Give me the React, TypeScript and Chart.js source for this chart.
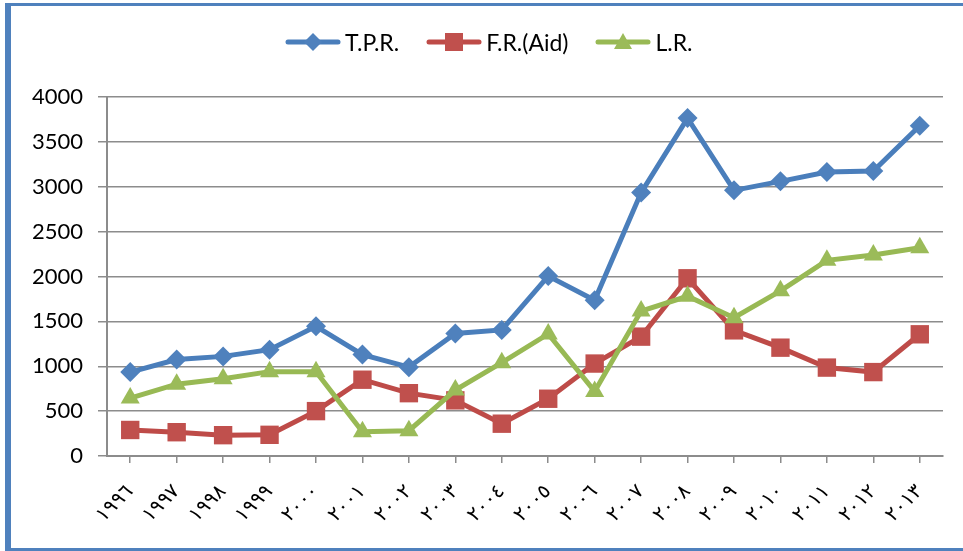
import React, { useEffect, useRef } from "react";
import { Chart, registerables } from "chart.js";

Chart.register(...registerables);

const years = [
  "١٩٩٦", "١٩٩٧", "١٩٩٨", "١٩٩٩", "٢٠٠٠", "٢٠٠١", "٢٠٠٢", "٢٠٠٣", "٢٠٠٤",
  "٢٠٠٥", "٢٠٠٦", "٢٠٠٧", "٢٠٠٨", "٢٠٠٩", "٢٠١٠", "٢٠١١", "٢٠١٢", "٢٠١٣",
];
const tpr = [935, 1075, 1110, 1185, 1445, 1130, 990, 1365, 1405, 2005, 1735, 2935, 3765, 2960, 3060, 3165, 3175, 3680];
const fr = [290, 265, 232, 236, 500, 850, 700, 620, 360, 638, 1030, 1330, 1980, 1400, 1207, 985, 935, 1356];
const lr = [645, 800, 860, 940, 940, 270, 282, 735, 1040, 1360, 720, 1615, 1780, 1540, 1840, 2180, 2240, 2320];
const seriesNames = ["T.P.R.", "F.R.(Aid)", "L.R."];
const yMin = 0;
const yMax = 4000;
const yStep = 500;

const lineColors = ["#4A7EBB", "#BE4B48", "#98B954"];
const markerColors = ["#4F81BD", "#C0504D", "#9BBB59"];
const markerShapes = ["rectRot", "rect", "triangle"];
const markerRadius = [10, 13, 11];
const seriesData = [tpr, fr, lr];

function LegendIcon({ idx }: { idx: number }) {
  const c = markerColors[idx];
  let marker: React.ReactNode = null;
  if (idx === 0) marker = <polygon points="28,2 37,11 28,20 19,11" fill={c} />;
  else if (idx === 1) marker = <rect x={19} y={2} width={18} height={18} fill={c} />;
  else marker = <polygon points="28,2 37,18 19,18" fill={c} />;
  return (
    <svg width={56} height={22} style={{ display: "block", marginRight: 4 }}>
      <line x1={3} y1={11} x2={53} y2={11} stroke={lineColors[idx]} strokeWidth={5} strokeLinecap="round" />
      {marker}
    </svg>
  );
}

export default function App() {
  const ref = useRef<HTMLCanvasElement | null>(null);

  useEffect(() => {
    if (!ref.current) return;
    const grey = "#8C8C8C";
    const chart = new Chart(ref.current, {
      type: "line",
      data: {
        labels: years,
        datasets: seriesData.map((d, i) => ({
          label: seriesNames[i],
          data: d,
          borderColor: lineColors[i],
          backgroundColor: markerColors[i],
          borderWidth: 5,
          pointStyle: markerShapes[i] as any,
          pointRadius: markerRadius[i],
          pointBackgroundColor: markerColors[i],
          pointBorderColor: markerColors[i],
          pointBorderWidth: 0,
          tension: 0,
          fill: false,
          order: 2 - i,
        })),
      },
      options: {
        responsive: false,
        animation: false,
        layout: { padding: { top: 97, right: 20, left: 0, bottom: 0 } },
        plugins: {
          legend: { display: false },
          tooltip: { enabled: false },
        },
        scales: {
          x: {
            type: "category",
            offset: true,
            grid: {
              display: true,
              drawOnChartArea: false,
              drawTicks: true,
              tickLength: 7,
              offset: false,
              color: grey,
              lineWidth: 1.5,
            },
            border: { display: true, color: grey, width: 2 },
            ticks: {
              autoSkip: false,
              maxRotation: 45,
              minRotation: 45,
              padding: 17,
              color: "#000",
              font: { family: "'DejaVu Sans'", size: 20 },
            },
            afterFit: (s: any) => {
              s.height = 95;
            },
          },
          y: {
            min: yMin,
            max: yMax,
            ticks: {
              stepSize: yStep,
              padding: 15,
              color: "#000",
              font: { family: "Lato, 'DejaVu Sans'", size: 22 },
              callback: (v: any) => String(v),
            },
            grid: { color: grey, lineWidth: 1.5, tickLength: 9 },
            border: { display: true, color: grey, width: 2 },
            afterFit: (s: any) => {
              s.width = 107;
            },
          },
        },
      },
    });
    return () => chart.destroy();
  }, []);

  return (
    <div style={{ position: "fixed", left: 0, top: 0, width: 963, height: 551, background: "#fff", overflow: "hidden" }}>
      <canvas ref={ref} width={963} height={551} style={{ position: "absolute", left: 0, top: 0 }} />
      <div
        style={{
          position: "absolute",
          left: 5,
          top: 3,
          width: 1000,
          height: 548,
          boxSizing: "border-box",
          borderLeft: "6px solid #4F81BD",
          borderTop: "3px solid #4F81BD",
          borderBottom: "3px solid #4F81BD",
          pointerEvents: "none",
        }}
      />
      <div
        style={{
          position: "absolute",
          left: 285,
          top: 31,
          height: 22,
          display: "flex",
          alignItems: "center",
          fontFamily: "Lato, 'DejaVu Sans', sans-serif",
          fontSize: 23,
          lineHeight: "22px",
          color: "#000",
          whiteSpace: "nowrap",
        }}
      >
        {seriesNames.map((n, i) => (
          <div key={n} style={{ display: "flex", alignItems: "center", marginRight: 27 }}>
            <LegendIcon idx={i} />
            <span>{n}</span>
          </div>
        ))}
      </div>
    </div>
  );
}
